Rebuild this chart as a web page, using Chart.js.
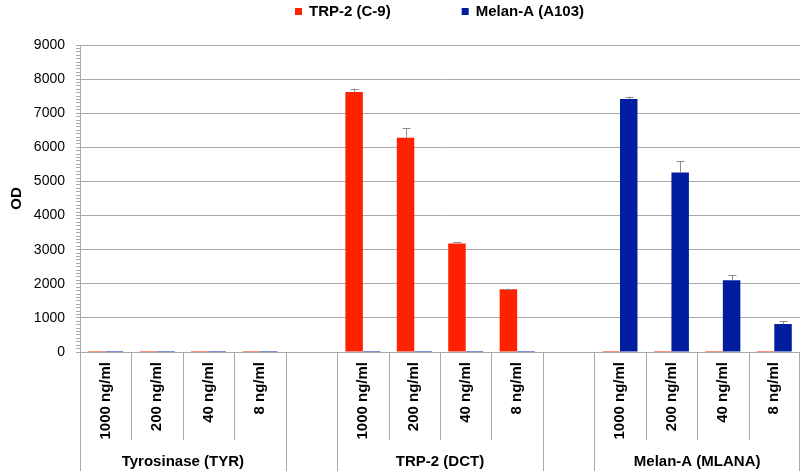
<!DOCTYPE html>
<html lang="en">
<head>
    <meta charset="UTF-8">
    <title>OD by antigen and concentration</title>
    <style>
        html, body {
            margin: 0;
            padding: 0;
            background-color: #fff;
        }
        #wrap {
            width: 800px;
            height: 471px;
        }
    </style>
    <script src="https://cdn.jsdelivr.net/npm/chart.js"></script>
</head>
<body>
    <div id="wrap"><canvas id="odChart"></canvas></div>

    <script>
        // categories (empty slots separate the three antigen groups)
        const concentrations = ['1000 ng/ml', '200 ng/ml', '40 ng/ml', '8 ng/ml', '',
                                '1000 ng/ml', '200 ng/ml', '40 ng/ml', '8 ng/ml', '',
                                '1000 ng/ml', '200 ng/ml', '40 ng/ml', '8 ng/ml'];
        const groups = ['Tyrosinase (TYR)', 'TRP-2 (DCT)', 'Melan-A (MLANA)'];
        const groupStart = [0, 5, 10];
        const groupSize = 4;

        // series values
        const trp2Label = 'TRP-2 (C-9)';
        const trp2Values = [30, 30, 30, 30, null, 7620, 6280, 3180, 1840, null, 30, 30, 30, 30];
        const trp2Errors = [0, 0, 0, 0, null, 100, 280, 40, 20, null, 0, 0, 0, 0];

        const melanLabel = 'Melan-A (A103)';
        const melanValues = [30, 30, 30, 30, null, 30, 30, 30, 30, null, 7420, 5260, 2100, 820];
        const melanErrors = [0, 0, 0, 0, null, 0, 0, 0, 0, null, 70, 330, 160, 90];

        const yTicks = [0, 1000, 2000, 3000, 4000, 5000, 6000, 7000, 8000, 9000];

        const FONT = '"Liberation Sans", Arial, sans-serif';
        const GRID = '#a9a9a9';

        // Error bars (upper half, as in the original figure)
        const errorBars = {
            id: 'errorBars',
            afterDatasetsDraw(chart) {
                const ctx = chart.ctx;
                const y = chart.scales.y;
                ctx.save();
                ctx.strokeStyle = '#8c8c8c';
                ctx.lineWidth = 1;
                chart.data.datasets.forEach((ds, di) => {
                    const meta = chart.getDatasetMeta(di);
                    meta.data.forEach((bar, i) => {
                        const err = ds.errors[i];
                        if (!err || ds.data[i] == null) return;
                        const top = y.getPixelForValue(ds.data[i] + err);
                        const x = Math.round(bar.x) + 0.5;
                        ctx.beginPath();
                        ctx.moveTo(x, bar.y);
                        ctx.lineTo(x, top);
                        ctx.moveTo(x - 4, Math.round(top) + 0.5);
                        ctx.lineTo(x + 4, Math.round(top) + 0.5);
                        ctx.stroke();
                    });
                });
                ctx.restore();
            }
        };

        // Two-level category axis: separators and group names
        const groupAxis = {
            id: 'groupAxis',
            afterDraw(chart) {
                const ctx = chart.ctx;
                const x = chart.scales.x;
                const area = chart.chartArea;
                const slot = x.width / concentrations.length;
                const inner = area.bottom + 88;
                const outer = chart.height;
                const longEdges = [];
                groupStart.forEach(s => { longEdges.push(s, s + groupSize); });

                ctx.save();
                ctx.strokeStyle = GRID;
                ctx.lineWidth = 1;
                for (let k = 0; k <= concentrations.length; k++) {
                    let px = Math.round(x.left + k * slot) + 0.5;
                    if (px > chart.width) px = chart.width - 0.5;
                    const end = longEdges.includes(k) ? outer : inner;
                    ctx.beginPath();
                    ctx.moveTo(px, area.bottom);
                    ctx.lineTo(px, end);
                    ctx.stroke();
                }

                ctx.fillStyle = '#000';
                ctx.font = 'bold 15px ' + FONT;
                ctx.textAlign = 'center';
                ctx.textBaseline = 'middle';
                groups.forEach((g, gi) => {
                    const cx = x.left + (groupStart[gi] + groupSize / 2) * slot;
                    ctx.fillText(g, cx, area.bottom + 110);
                });
                ctx.restore();
            }
        };

        // Legend across the top, centred over the plot area
        const topLegend = {
            id: 'topLegend',
            afterDraw(chart) {
                const ctx = chart.ctx;
                const area = chart.chartArea;
                const box = 7, gapText = 7, gapItem = 71;
                ctx.save();
                ctx.font = 'bold 15px ' + FONT;
                ctx.textBaseline = 'middle';
                ctx.textAlign = 'left';
                const items = chart.data.datasets.map(ds => ({
                    text: ds.label,
                    color: ds.backgroundColor,
                    w: box + gapText + ctx.measureText(ds.label).width
                }));
                const total = items.reduce((s, it) => s + it.w, 0) + gapItem * (items.length - 1);
                let cx = Math.round((area.left + area.right) / 2 - total / 2);
                const cy = 12;
                items.forEach(it => {
                    ctx.fillStyle = it.color;
                    ctx.fillRect(cx, cy - 4, box, box);
                    ctx.fillStyle = '#000';
                    ctx.fillText(it.text, cx + box + gapText, cy);
                    cx += it.w + gapItem;
                });
                ctx.restore();
            }
        };

        new Chart(document.getElementById('odChart'), {
            type: 'bar',
            data: {
                labels: concentrations,
                datasets: [{
                    label: trp2Label,
                    data: trp2Values,
                    errors: trp2Errors,
                    backgroundColor: '#ff2200',
                    borderWidth: 0
                }, {
                    label: melanLabel,
                    data: melanValues,
                    errors: melanErrors,
                    backgroundColor: '#001da0',
                    borderWidth: 0
                }]
            },
            options: {
                responsive: true,
                maintainAspectRatio: false,
                animation: false,
                events: [],
                layout: { padding: { top: 45, right: 0, left: 0, bottom: 0 } },
                datasets: {
                    bar: { categoryPercentage: 0.68, barPercentage: 1.0 }
                },
                plugins: {
                    legend: { display: false },
                    tooltip: { enabled: false }
                },
                scales: {
                    x: {
                        grid: { display: false },
                        border: { display: true, color: GRID },
                        ticks: {
                            color: '#000',
                            font: { family: FONT, size: 15, weight: 'bold' },
                            minRotation: 90,
                            maxRotation: 90,
                            autoSkip: false,
                            padding: 2
                        },
                        afterFit: (scale) => { scale.height = 119; }
                    },
                    y: {
                        min: 0,
                        max: 9000,
                        grid: {
                            color: (c) => (c.tick && yTicks.includes(c.tick.value) ? GRID : 'rgba(0,0,0,0)'),
                            tickColor: GRID,
                            tickLength: 4
                        },
                        border: { display: true, color: GRID },
                        ticks: {
                            stepSize: 100,
                            autoSkip: false,
                            color: '#000',
                            padding: 11,
                            font: { family: FONT, size: 14 },
                            callback: (v) => (yTicks.includes(v) ? String(v) : '')
                        },
                        title: {
                            display: true,
                            text: 'OD',
                            color: '#000',
                            font: { family: FONT, size: 15, weight: 'bold' },
                            padding: { top: 8, bottom: 0 }
                        },
                        afterFit: (scale) => { scale.width = 80; }
                    }
                }
            },
            plugins: [errorBars, groupAxis, topLegend]
        });
    </script>
</body>
</html>
